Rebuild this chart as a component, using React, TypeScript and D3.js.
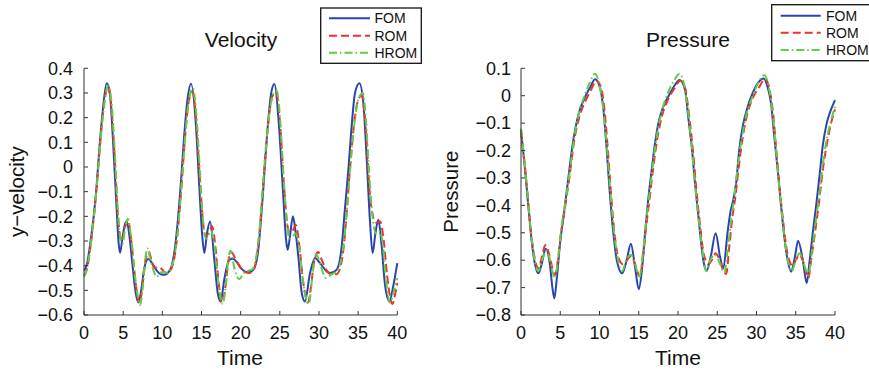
import React from "react";
import * as d3 from "d3";

// ---------- Velocity data ----------
const velTicksX = [0, 5, 10, 15, 20, 25, 30, 35, 40];
const velTicksY = [0.4, 0.3, 0.2, 0.1, 0, -0.1, -0.2, -0.3, -0.4, -0.5, -0.6];

const fomVelT = [0,0.4,0.8,1.2,1.6,2.0,2.4,2.9,3.3,3.7,4.2,4.4,4.6,4.9,5.2,5.45,5.8,6.2,6.6,6.95,7.3,7.7,8.2,8.7,9.3,9.8,10.3,10.8,11.2,11.6,12.0,12.4,12.8,13.2,13.67,14.3,14.72,15.07,15.36,15.7,16.1,16.64,17.07,17.45,17.9,18.56,19.0,19.5,20.05,20.9,21.5,21.75,22.2,22.6,23.0,23.46,23.9,24.3,24.9,25.37,25.8,26.0,26.3,26.67,27.0,27.4,27.8,28.2,28.86,29.5,30.14,30.78,31.4,32.27,32.9,33.3,33.75,34.2,34.6,35.16,35.67,36.1,36.5,36.85,37.2,37.58,38.0,38.44,39.0,39.5,40];
const fomVelV = [-0.42,-0.39,-0.31,-0.21,-0.08,0.09,0.23,0.339,0.30,0.11,-0.19,-0.30,-0.348,-0.29,-0.235,-0.221,-0.28,-0.40,-0.51,-0.549,-0.50,-0.41,-0.373,-0.39,-0.42,-0.435,-0.437,-0.425,-0.40,-0.33,-0.21,-0.05,0.13,0.27,0.337,0.164,-0.08,-0.268,-0.349,-0.27,-0.221,-0.376,-0.511,-0.545,-0.457,-0.376,-0.372,-0.385,-0.41,-0.427,-0.42,-0.41,-0.349,-0.214,-0.039,0.164,0.30,0.336,0.164,-0.08,-0.295,-0.336,-0.28,-0.20,-0.26,-0.376,-0.511,-0.545,-0.43,-0.369,-0.39,-0.416,-0.43,-0.416,-0.322,-0.174,-0.012,0.177,0.30,0.339,0.258,0.029,-0.214,-0.349,-0.27,-0.214,-0.32,-0.48,-0.545,-0.48,-0.39];

const romVelT = [0,0.4,0.8,1.2,1.6,2.0,2.5,3.05,3.5,3.9,4.3,4.6,4.85,5.2,5.6,6.0,6.5,6.85,7.1,7.5,7.9,8.3,8.7,9.0,9.4,9.8,10.5,11.0,11.4,11.8,12.2,12.6,13.0,13.4,13.85,14.3,14.7,15.1,15.5,15.9,16.35,16.8,17.2,17.6,18.0,18.4,18.8,19.3,19.8,20.3,21.0,21.5,21.9,22.3,22.7,23.1,23.6,24.1,24.55,25.0,25.5,25.9,26.2,26.6,27.05,27.5,28.0,28.6,29.0,29.4,29.9,30.4,31.0,31.6,32.2,32.7,33.1,33.5,33.9,34.4,34.9,35.45,35.9,36.5,36.9,37.3,37.8,38.2,38.7,39.1,39.4,39.7,40];
const romVelV = [-0.44,-0.41,-0.33,-0.22,-0.09,0.07,0.24,0.325,0.24,0.05,-0.18,-0.28,-0.30,-0.25,-0.215,-0.29,-0.44,-0.53,-0.55,-0.47,-0.37,-0.345,-0.39,-0.41,-0.405,-0.41,-0.43,-0.42,-0.39,-0.31,-0.18,-0.01,0.16,0.27,0.305,0.20,0.0,-0.19,-0.28,-0.27,-0.24,-0.33,-0.47,-0.55,-0.50,-0.39,-0.345,-0.37,-0.40,-0.42,-0.43,-0.425,-0.39,-0.30,-0.15,0.03,0.20,0.29,0.30,0.19,-0.06,-0.22,-0.265,-0.26,-0.235,-0.32,-0.47,-0.55,-0.48,-0.38,-0.345,-0.38,-0.42,-0.435,-0.435,-0.41,-0.34,-0.20,-0.03,0.15,0.26,0.29,0.19,-0.11,-0.20,-0.225,-0.22,-0.28,-0.44,-0.53,-0.555,-0.52,-0.47];

const hromVelT = [0,0.4,0.8,1.2,1.6,2.0,2.5,3.1,3.55,3.95,4.35,4.65,4.9,5.25,5.6,6.0,6.5,6.9,7.15,7.5,7.8,8.1,8.5,9.0,9.3,9.7,10.2,10.7,11.1,11.5,11.9,12.3,12.7,13.1,13.5,13.9,14.35,14.75,15.15,15.6,16.2,16.7,17.2,17.7,18.1,18.4,18.7,19.2,19.8,20.4,21.0,21.5,21.9,22.3,22.7,23.1,23.6,24.1,24.6,25.05,25.5,25.9,26.2,26.6,27.0,27.5,28.0,28.7,29.1,29.4,29.7,30.2,30.9,31.4,31.9,32.4,32.8,33.2,33.6,34.0,34.5,35.0,35.6,36.0,36.4,36.8,37.3,37.8,38.2,38.6,39.1,39.5,40];
const hromVelV = [-0.445,-0.41,-0.33,-0.22,-0.09,0.07,0.23,0.33,0.25,0.05,-0.19,-0.29,-0.31,-0.25,-0.21,-0.28,-0.44,-0.53,-0.56,-0.49,-0.38,-0.33,-0.38,-0.43,-0.445,-0.43,-0.425,-0.43,-0.41,-0.37,-0.28,-0.14,0.03,0.19,0.29,0.32,0.21,0.01,-0.20,-0.29,-0.26,-0.33,-0.48,-0.555,-0.48,-0.38,-0.34,-0.41,-0.455,-0.43,-0.42,-0.415,-0.38,-0.29,-0.14,0.03,0.20,0.29,0.31,0.19,-0.05,-0.22,-0.29,-0.285,-0.27,-0.33,-0.47,-0.555,-0.46,-0.38,-0.355,-0.40,-0.45,-0.44,-0.43,-0.42,-0.38,-0.30,-0.16,0.0,0.17,0.27,0.30,0.19,-0.02,-0.19,-0.27,-0.26,-0.33,-0.47,-0.55,-0.51,-0.45];

// ---------- Pressure data ----------
const presTicksX = [0, 5, 10, 15, 20, 25, 30, 35, 40];
const presTicksY = [0.1, 0, -0.1, -0.2, -0.3, -0.4, -0.5, -0.6, -0.7, -0.8];

const fomPresT = [0,0.5,0.93,1.36,1.78,2.2,2.63,3.14,3.7,4.0,4.25,4.55,4.97,5.4,6.0,6.67,7.3,8.15,8.8,9.43,10.06,10.5,10.9,11.3,11.76,12.2,12.9,13.46,14.0,14.5,15.0,15.4,15.8,16.2,16.65,17.07,17.5,18.13,19.0,19.6,20.2,20.9,21.3,21.75,22.17,22.6,23.0,23.3,23.65,24.17,24.8,25.35,25.77,26.3,26.7,27.0,27.4,27.8,28.24,28.88,29.5,30.15,30.9,31.4,31.85,32.27,32.7,33.1,33.54,33.97,34.4,34.9,35.3,35.9,36.4,36.73,37.16,37.6,38.0,38.45,38.95,39.5,40];
const fomPresV = [-0.125,-0.265,-0.40,-0.53,-0.615,-0.648,-0.615,-0.558,-0.62,-0.70,-0.739,-0.67,-0.54,-0.445,-0.307,-0.16,-0.07,-0.005,0.03,0.06,0.03,-0.05,-0.19,-0.35,-0.50,-0.60,-0.648,-0.60,-0.54,-0.62,-0.706,-0.636,-0.502,-0.38,-0.271,-0.174,-0.10,-0.04,0.009,0.039,0.057,0.021,-0.077,-0.186,-0.32,-0.441,-0.551,-0.612,-0.638,-0.587,-0.502,-0.587,-0.63,-0.502,-0.42,-0.385,-0.32,-0.198,-0.113,-0.04,0.009,0.045,0.063,0.033,-0.028,-0.15,-0.271,-0.393,-0.514,-0.60,-0.642,-0.587,-0.529,-0.60,-0.684,-0.612,-0.502,-0.40,-0.30,-0.18,-0.10,-0.05,-0.016];

const romPresT = [0,0.5,0.95,1.4,1.8,2.2,2.65,3.1,3.6,4.0,4.3,4.7,5.1,5.6,6.2,6.8,7.4,8.2,8.9,9.6,10.2,10.7,11.1,11.5,11.9,12.4,13.0,13.5,14.0,14.6,15.1,15.5,15.9,16.4,16.9,17.4,18.0,18.8,19.5,20.3,20.9,21.4,21.9,22.3,22.8,23.3,23.9,24.3,24.8,25.3,25.8,26.15,26.5,26.9,27.3,27.7,28.2,28.8,29.5,30.3,31.1,31.6,32.1,32.5,32.9,33.4,33.9,34.6,35.0,35.5,36.0,36.6,37.0,37.5,38.0,38.5,39.0,39.5,40];
const romPresV = [-0.13,-0.26,-0.40,-0.53,-0.60,-0.63,-0.59,-0.545,-0.58,-0.63,-0.655,-0.60,-0.50,-0.41,-0.29,-0.16,-0.08,-0.02,0.02,0.055,0.03,-0.07,-0.21,-0.37,-0.50,-0.59,-0.615,-0.60,-0.585,-0.62,-0.66,-0.60,-0.49,-0.37,-0.25,-0.15,-0.07,-0.01,0.025,0.055,0.03,-0.07,-0.20,-0.33,-0.47,-0.58,-0.615,-0.60,-0.575,-0.60,-0.64,-0.65,-0.56,-0.45,-0.37,-0.27,-0.16,-0.07,-0.01,0.03,0.06,0.03,-0.06,-0.19,-0.32,-0.46,-0.57,-0.62,-0.60,-0.58,-0.61,-0.665,-0.59,-0.49,-0.38,-0.26,-0.17,-0.10,-0.05];

const hromPresT = [0,0.5,0.95,1.4,1.8,2.2,2.7,3.2,3.7,4.0,4.3,4.7,5.1,5.6,6.2,6.8,7.4,8.1,8.8,9.4,9.9,10.4,10.9,11.3,11.8,12.3,12.9,13.4,14.0,14.6,15.05,15.5,15.9,16.4,16.9,17.4,18.0,18.7,19.4,20.2,20.7,21.2,21.7,22.1,22.6,23.1,23.6,24.1,24.7,25.3,25.9,26.3,26.7,27.2,27.6,28.1,28.7,29.4,30.2,31.0,31.5,32.0,32.4,32.8,33.3,33.8,34.5,35.0,35.5,36.0,36.6,37.0,37.5,38.0,38.5,39.0,39.5,40];
const hromPresV = [-0.12,-0.255,-0.40,-0.53,-0.61,-0.64,-0.60,-0.565,-0.60,-0.64,-0.665,-0.60,-0.49,-0.40,-0.28,-0.15,-0.06,0.0,0.05,0.08,0.05,-0.03,-0.17,-0.32,-0.48,-0.59,-0.64,-0.60,-0.58,-0.62,-0.665,-0.58,-0.47,-0.35,-0.23,-0.13,-0.05,0.01,0.05,0.08,0.05,-0.04,-0.17,-0.30,-0.44,-0.56,-0.64,-0.60,-0.58,-0.61,-0.645,-0.57,-0.47,-0.36,-0.26,-0.16,-0.07,-0.01,0.045,0.075,0.04,-0.05,-0.17,-0.30,-0.45,-0.57,-0.64,-0.60,-0.575,-0.61,-0.655,-0.58,-0.47,-0.36,-0.24,-0.15,-0.09,-0.04];

const seriesNames = ["FOM", "ROM", "HROM"];
const seriesColors = ["#2a44ae", "#e8342c", "#5fcd45"];
const seriesDash = ["none", "8,4", "8,3,1.5,3"];

const FONT = "'Liberation Sans', Arial, Helvetica, sans-serif";
const AXIS = "#333";

const fmtY = (v: number) => (Math.abs(v) < 1e-9 ? "0" : d3.format(".1f")(v));
const fmtX = d3.format("d");

type PanelProps = {
  x0: number; x1: number; y0: number; y1: number;
  yDomain: [number, number];
  xTicks: number[]; yTicks: number[];
  series: { t: number[]; v: number[] }[];
  title: string; titleX: number;
  yLabel: string; yLabelX: number;
  xLabelX: number;
  yTickX: number;
  legend: { x: number; y: number; w: number; h: number; rows: number[]; lx0: number; lx1: number; tx: number };
};

function Panel(p: PanelProps) {
  const x = d3.scaleLinear().domain([0, 40]).range([p.x0, p.x1]);
  const y = d3.scaleLinear().domain(p.yDomain).range([p.y1, p.y0]);
  const line = d3
    .line<[number, number]>()
    .x((d) => x(d[0]))
    .y((d) => y(d[1]))
    .curve(d3.curveMonotoneX);
  const tick = 4;
  return (
    <g fontFamily={FONT}>
      {p.series.map((s, i) => (
        <path
          key={i}
          d={line(s.t.map((t, j) => [t, s.v[j]] as [number, number])) || ""}
          fill="none"
          stroke={seriesColors[i]}
          strokeWidth={2}
          strokeDasharray={seriesDash[i]}
          strokeLinejoin="round"
        />
      ))}
      <line x1={p.x0} x2={p.x1} y1={p.y1} y2={p.y1} stroke={AXIS} strokeWidth={1} />
      <line x1={p.x0} x2={p.x0} y1={p.y0} y2={p.y1} stroke={AXIS} strokeWidth={1} />
      {p.xTicks.map((t) => (
        <g key={"xt" + t}>
          <line x1={x(t)} x2={x(t)} y1={p.y1} y2={p.y1 - tick} stroke={AXIS} strokeWidth={1} />
          <text x={x(t)} y={339} textAnchor="middle" fontSize={18} fill="#111">
            {fmtX(t)}
          </text>
        </g>
      ))}
      {p.yTicks.map((t) => (
        <g key={"yt" + t}>
          <line x1={p.x0} x2={p.x0 + tick} y1={y(t)} y2={y(t)} stroke={AXIS} strokeWidth={1} />
          <text x={p.yTickX} y={y(t) + 6.3} textAnchor="end" fontSize={18} fill="#111">
            {fmtY(t)}
          </text>
        </g>
      ))}
      <text x={p.titleX} y={47} textAnchor="middle" fontSize={21} fill="#111">
        {p.title}
      </text>
      <text x={p.xLabelX} y={365} textAnchor="middle" fontSize={21} fill="#111">
        Time
      </text>
      <text
        transform={`translate(${p.yLabelX},${(p.y0 + p.y1) / 2}) rotate(-90)`}
        textAnchor="middle"
        fontSize={20.5}
        fill="#111"
      >
        {p.yLabel}
      </text>
      <rect x={p.legend.x} y={p.legend.y} width={p.legend.w} height={p.legend.h} fill="#fff" stroke="#111" strokeWidth={1.3} />
      {seriesNames.map((n, i) => (
        <g key={n}>
          <line
            x1={p.legend.lx0}
            x2={p.legend.lx1}
            y1={p.legend.rows[i]}
            y2={p.legend.rows[i]}
            stroke={seriesColors[i]}
            strokeWidth={2}
            strokeDasharray={seriesDash[i]}
          />
          <text x={p.legend.tx} y={p.legend.rows[i] + 5} fontSize={14} fill="#111">
            {n}
          </text>
        </g>
      ))}
    </g>
  );
}

export default function App() {
  return (
    <svg
      width={869}
      height={370}
      style={{ position: "absolute", left: 0, top: 0, background: "#fff" }}
    >
      <Panel
        x0={84}
        x1={397.3}
        y0={68.3}
        y1={315}
        yDomain={[-0.6, 0.4]}
        xTicks={velTicksX}
        yTicks={velTicksY}
        series={[
          { t: fomVelT, v: fomVelV },
          { t: romVelT, v: romVelV },
          { t: hromVelT, v: hromVelV },
        ]}
        title="Velocity"
        titleX={241}
        yLabel="y−velocity"
        yLabelX={24}
        xLabelX={240}
        yTickX={73}
        legend={{ x: 320.7, y: 8, w: 100.6, h: 55.3, rows: [18.3, 35.7, 52.7], lx0: 329, lx1: 370, tx: 374.5 }}
      />
      <Panel
        x0={521}
        x1={835}
        y0={68.3}
        y1={315}
        yDomain={[-0.8, 0.1]}
        xTicks={presTicksX}
        yTicks={presTicksY}
        series={[
          { t: fomPresT, v: fomPresV },
          { t: romPresT, v: romPresV },
          { t: hromPresT, v: hromPresV },
        ]}
        title="Pressure"
        titleX={688}
        yLabel="Pressure"
        yLabelX={458}
        xLabelX={678}
        yTickX={511}
        legend={{ x: 771.7, y: 4.7, w: 100, h: 56, rows: [15.7, 32.7, 50], lx0: 780.7, lx1: 820.7, tx: 826 }}
      />
    </svg>
  );
}
